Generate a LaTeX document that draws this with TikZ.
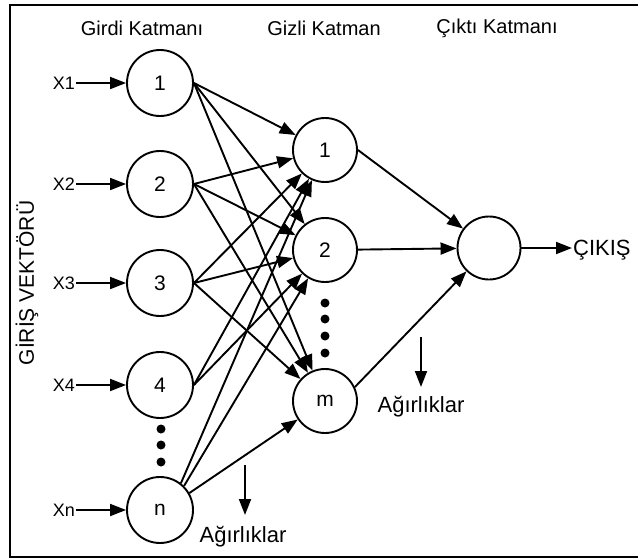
\documentclass[tikz,border=0pt]{standalone}
\usepackage{fontspec}
\setmainfont{Liberation Sans}
\usetikzlibrary{arrows.meta}

\begin{document}
\begin{tikzpicture}[x=1pt,y=-1pt,
  neuron/.style={circle,draw,line width=1.9pt,minimum size=66pt,inner sep=0pt,font=\fontsize{21}{25}\selectfont},
  lbl/.style={font=\fontsize{20}{24}\selectfont},
  blbl/.style={font=\fontsize{22}{26}\selectfont},
  xlbl/.style={font=\fontsize{18}{22}\selectfont,anchor=east,inner sep=1pt},
  arr/.style={line width=1.9pt,-{Triangle[length=16pt,width=12pt]}}]
  \useasboundingbox (0,0) rectangle (638,560);
  % frame, open on the right
  \draw[line width=1.9pt] (638,5) -- (10,5) -- (10,557) -- (638,557);
  % layer titles
  \node[lbl] (tin) at (142,28) {Girdi Katmanı};
  \node[lbl] (thid) at (324,28) {Gizli Katman};
  \node[lbl] (tout) at (497,28) {Çıktı Katmanı};
  \node[font=\fontsize{21}{25}\selectfont,rotate=90] (vec) at (27,283) {GİRİŞ VEKTÖRÜ};
  % input layer
  \node[neuron] (i1) at (160,83) {1};
  \node[neuron] (i2) at (160,184) {2};
  \node[neuron] (i3) at (160,283) {3};
  \node[neuron] (i4) at (160,385) {4};
  \node[neuron] (in) at (160,510) {n};
  \fill (161,429) circle (4.5pt);
  \fill (161,445) circle (4.5pt);
  \fill (161,462) circle (4.5pt);
  % hidden layer
  \node[neuron,minimum size=64pt] (h1) at (325,150) {1};
  \node[neuron,minimum size=64pt] (h2) at (325,250) {2};
  \node[neuron,minimum size=64pt] (hm) at (325,401) {m};
  \fill (325,303) circle (4.5pt);
  \fill (325,319) circle (4.5pt);
  \fill (325,336) circle (4.5pt);
  \fill (325,353) circle (4.5pt);
  % output layer
  \node[neuron,minimum size=63pt] (out) at (489,248) {};
  \node[blbl,anchor=west,inner sep=1pt,text depth=0pt] (cikis) at (572,248) {ÇIKIŞ};
  % inputs
  \node[xlbl] (x1) at (76,83) {X1};
  \node[xlbl] (x2) at (76,184) {X2};
  \node[xlbl] (x3) at (76,283) {X3};
  \node[xlbl] (x4) at (76,385) {X4};
  \node[xlbl] (xn) at (76,510) {Xn};
  \draw[arr] (x1) -- (i1);
  \draw[arr] (x2) -- (i2);
  \draw[arr] (x3) -- (i3);
  \draw[arr] (x4) -- (i4);
  \draw[arr] (xn) -- (in);
  % input -> hidden
  \draw[arr] (i1.east) -- (h1);
  \draw[arr] (i1.east) -- (h2);
  \draw[arr] (i1.east) -- (hm);
  \draw[arr] (i2.east) -- (h1);
  \draw[arr] (i2.east) -- (h2);
  \draw[arr] (i2.east) -- (hm);
  \draw[arr] (i3.east) -- (h1);
  \draw[arr] (i3.east) -- (h2);
  \draw[arr] (i3.east) -- (hm);
  \draw[arr] (i4.east) -- (h1);
  \draw[arr] (i4.east) -- (h2);
  \draw[arr] (in.52) -- (h1);
  \draw[arr] (in.45) -- (h2);
  \draw[arr] (in.30) -- (hm);
  % hidden -> output
  \draw[arr] (h1.east) -- (out);
  \draw[arr] (h2) -- (out);
  \draw[arr] (hm.25) -- (out);
  \draw[arr] (out) -- (cikis);
  % weights
  \coordinate (wa1) at (245,465);
  \coordinate (wb1) at (245,515);
  \draw[arr] (wa1) -- (wb1);
  \node[blbl] (w1) at (243,537) {Ağırlıklar};
  \coordinate (wa2) at (421,337);
  \coordinate (wb2) at (421,387);
  \draw[arr] (wa2) -- (wb2);
  \node[blbl] (w2) at (421,407) {Ağırlıklar};
\end{tikzpicture}
\end{document}
